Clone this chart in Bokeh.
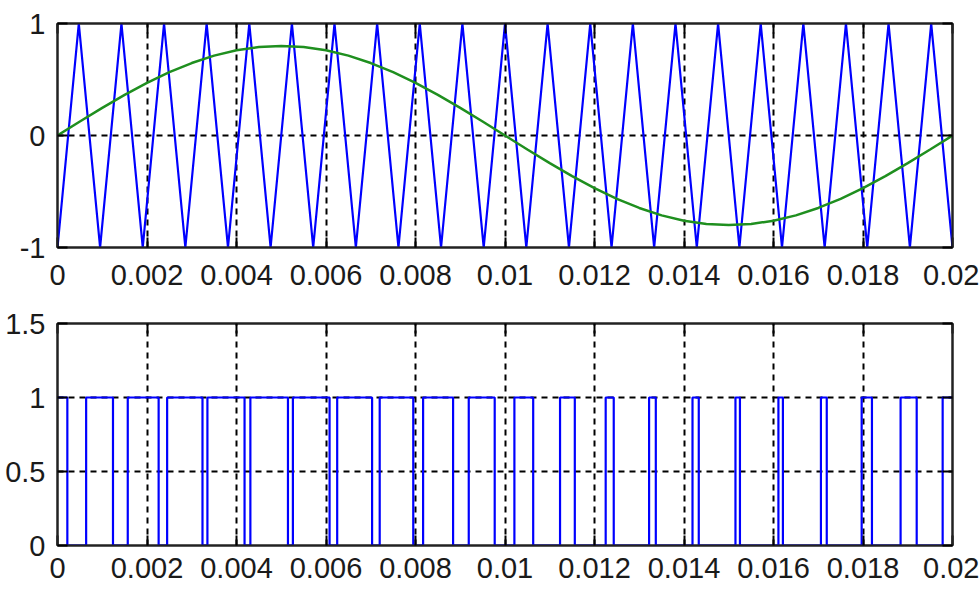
from bokeh.plotting import figure
from bokeh.models import Range1d, FixedTicker, LinearAxis
from bokeh.layouts import column
from bokeh.embed import file_html
from bokeh.resources import INLINE

# ---- data ----
sine_t = [0, 0.0005, 0.001, 0.0015, 0.002, 0.0025, 0.003, 0.0035, 0.004, 0.0045,
          0.005, 0.0055, 0.006, 0.0065, 0.007, 0.0075, 0.008, 0.0085, 0.009, 0.0095,
          0.01, 0.0105, 0.011, 0.0115, 0.012, 0.0125, 0.013, 0.0135, 0.014, 0.0145,
          0.015, 0.0155, 0.016, 0.0165, 0.017, 0.0175, 0.018, 0.0185, 0.019, 0.0195, 0.02]
sine_v = [0, 0.125, 0.247, 0.363, 0.470, 0.566, 0.647, 0.713, 0.761, 0.790,
          0.800, 0.790, 0.761, 0.713, 0.647, 0.566, 0.470, 0.363, 0.247, 0.125,
          0, -0.125, -0.247, -0.363, -0.470, -0.566, -0.647, -0.713, -0.761, -0.790,
          -0.800, -0.790, -0.761, -0.713, -0.647, -0.566, -0.470, -0.363, -0.247, -0.125, 0]

carrier_t = [0, 0.000476, 0.000952, 0.001429, 0.001905, 0.002381, 0.002857, 0.003333,
             0.00381, 0.004286, 0.004762, 0.005238, 0.005714, 0.00619, 0.006667, 0.007143,
             0.007619, 0.008095, 0.008571, 0.009048, 0.009524, 0.01, 0.010476, 0.010952,
             0.011429, 0.011905, 0.012381, 0.012857, 0.013333, 0.01381, 0.014286, 0.014762,
             0.015238, 0.015714, 0.01619, 0.016667, 0.017143, 0.017619, 0.018095, 0.018571,
             0.019048, 0.019524, 0.02]
carrier_v = [-1, 1, -1, 1, -1, 1, -1, 1, -1, 1, -1, 1, -1, 1, -1, 1, -1, 1, -1, 1, -1, 1,
             -1, 1, -1, 1, -1, 1, -1, 1, -1, 1, -1, 1, -1, 1, -1, 1, -1, 1, -1, 1, -1]

pwm_start = 1
pwm_edges = [0.00022, 0.00064, 0.00124, 0.00157, 0.00226, 0.00245, 0.00324, 0.00335,
             0.00418, 0.00431, 0.00515, 0.00526, 0.00608, 0.00625, 0.00703, 0.00720,
             0.00795, 0.00817, 0.00884, 0.00919, 0.00977, 0.01021, 0.01063, 0.01123,
             0.01156, 0.01225, 0.01243, 0.01322, 0.01337, 0.01419, 0.01433, 0.01515,
             0.01525, 0.01611, 0.01621, 0.01706, 0.01719, 0.01797, 0.01820, 0.01884,
             0.01920, 0.01978]

x_ticks = [0, 0.002, 0.004, 0.006, 0.008, 0.01, 0.012, 0.014, 0.016, 0.018, 0.02]
x_tick_labels = ["0", "0.002", "0.004", "0.006", "0.008", "0.01", "0.012", "0.014",
                 "0.016", "0.018", "0.02"]
top_y_ticks = [-1, 0, 1]
top_y_labels = ["-1", "0", "1"]
bot_y_ticks = [0, 0.5, 1, 1.5]
bot_y_labels = ["0", "0.5", "1", "1.5"]

FONT = "Liberation Sans"
FS = "29px"


def style_axis(ax, ticks, labels, standoff, show_labels=True):
    ax.ticker = FixedTicker(ticks=ticks)
    if show_labels:
        ax.major_label_overrides = {t: l for t, l in zip(ticks, labels)}
    else:
        ax.major_label_overrides = {t: "" for t in ticks}
    ax.major_tick_in = 10
    ax.major_tick_out = 0
    ax.major_tick_line_color = "black"
    ax.major_tick_line_width = 2
    ax.minor_tick_line_color = None
    ax.axis_line_color = "#222222"
    ax.axis_line_width = 2
    ax.major_label_standoff = standoff
    ax.major_label_text_font = FONT
    ax.major_label_text_color = "#1a1a1a"
    ax.major_label_text_font_size = FS


def make_fig(height, y_range, yticks, ylabels, top, bottom, xstand):
    p = figure(width=979, height=height, x_range=Range1d(0, 0.02),
               y_range=Range1d(*y_range), output_backend="svg",
               toolbar_location=None, min_border_left=57, min_border_right=27,
               min_border_top=top, min_border_bottom=bottom)
    p.background_fill_color = "white"
    p.border_fill_color = "white"
    p.outline_line_color = "#222222"
    p.outline_line_width = 2
    style_axis(p.xaxis[0], x_ticks, x_tick_labels, xstand)
    style_axis(p.yaxis[0], yticks, ylabels, 12)
    above = LinearAxis()
    style_axis(above, x_ticks, x_tick_labels, 0, show_labels=False)
    right = LinearAxis()
    style_axis(right, yticks, ylabels, 0, show_labels=False)
    p.add_layout(above, "above")
    p.add_layout(right, "right")
    p.xgrid.ticker = FixedTicker(ticks=x_ticks)
    p.ygrid.ticker = FixedTicker(ticks=yticks)
    for g in (p.xgrid[0], p.ygrid[0]):
        g.grid_line_color = "black"
        g.grid_line_dash = "6 5"
        g.grid_line_width = 2
    return p


p1 = make_fig(300, (-1, 1), top_y_ticks, top_y_labels, 23, 53, 17)
p1.line(carrier_t, carrier_v, line_color="#0000ff", line_width=2.2)
p1.line(sine_t, sine_v, line_color="#1f8f1f", line_width=2.5)

# build step arrays from the edges
px = [0] + pwm_edges + [0.02]
py = []
level = pwm_start
for _ in px:
    py.append(level)
    level = 1 - level
py[-1] = py[-2]

p2 = make_fig(289, (0, 1.5), bot_y_ticks, bot_y_labels, 23, 44, 12)
p2.step(px, py, mode="after", line_color="#0000ff", line_width=2.2)

layout = column(p1, p2, spacing=0)
open("out.html", "w").write(file_html(layout, INLINE))
